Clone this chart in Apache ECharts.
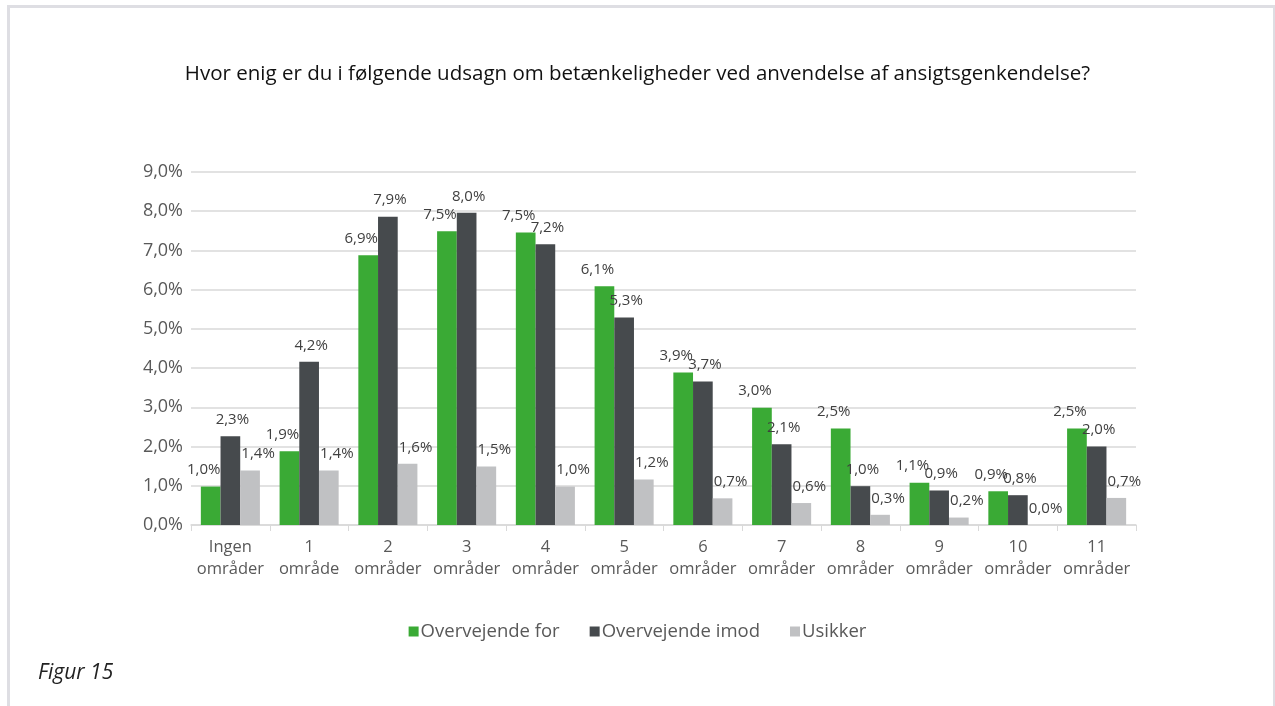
<!DOCTYPE html>
<html>
<head>
<meta charset="utf-8">
<script src="https://cdn.jsdelivr.net/npm/echarts@6/dist/echarts.min.js"></script>
<style>
  html, body { margin: 0; padding: 0; background: #fff; }
  #wrap { position: relative; width: 1275px; height: 706px; }
  #frame {
    position: absolute; left: 7px; top: 5px; right: 0; bottom: 0;
    border-left: 3px solid #dedee3; border-top: 3px solid #dedee3; border-right: 2px solid #dedee3;
  }
  #chart { position: absolute; left: 0; top: 0; width: 1275px; height: 706px; }
</style>
</head>
<body>
<div id="wrap">
  <div id="frame"></div>
  <div id="chart"></div>
</div>
<script>
const categories = ["Ingen\nområder", "1\nområde", "2\nområder", "3\nområder", "4\nområder", "5\nområder",
  "6\nområder", "7\nområder", "8\nområder", "9\nområder", "10\nområder", "11\nområder"];
const forValues = [0.98, 1.88, 6.88, 7.49, 7.46, 6.09, 3.89, 2.99, 2.46, 1.08, 0.86, 2.46];
const imodValues = [2.26, 4.16, 7.86, 7.96, 7.16, 5.29, 3.66, 2.06, 0.99, 0.88, 0.76, 2.0];
const usikkerValues = [1.39, 1.39, 1.56, 1.49, 0.98, 1.16, 0.68, 0.56, 0.26, 0.19, 0.0, 0.69];
const yTicks = [0, 1, 2, 3, 4, 5, 6, 7, 8, 9];

const fontFamily = "'Open Sans', 'Noto Sans', sans-serif";
const pct = v => (Math.round(v * 10) / 10).toFixed(1).replace(".", ",") + "%";

function series(name, data, color, dx) {
  return {
    name: name,
    type: "bar",
    data: data,
    barGap: "0%",
    barCategoryGap: "25%",
    itemStyle: { color: color },
    label: {
      show: true,
      position: "top",
      distance: 9,
      offset: [dx, 0],
      formatter: p => pct(p.value),
      fontFamily: fontFamily,
      fontSize: 15,
      color: "#404040"
    }
  };
}

const chart = echarts.init(document.getElementById("chart"));
chart.setOption({
  animation: false,
  textStyle: { fontFamily: fontFamily },
  title: {
    text: "Hvor enig er du i følgende udsagn om betænkeligheder ved anvendelse af ansigtsgenkendelse?",
    left: "center",
    top: 59,
    textStyle: { fontFamily: fontFamily, fontSize: 20.5, fontWeight: "normal", color: "#111" }
  },
  legend: {
    bottom: 60,
    left: "center",
    itemWidth: 10,
    itemHeight: 10,
    itemGap: 30,
    icon: "rect",
    textStyle: { fontFamily: fontFamily, fontSize: 18.5, color: "#595959", padding: [0, 0, 0, -3] },
    data: ["Overvejende for", "Overvejende imod", "Usikker"]
  },
  graphic: [{
    type: "text",
    left: 38,
    top: 663,
    style: { text: "Figur 15", font: "italic 21px " + fontFamily, fill: "#222" }
  }],
  grid: { left: 191, right: 139, top: 172, bottom: 181 },
  xAxis: {
    type: "category",
    data: categories,
    axisLine: { lineStyle: { color: "#d9d9d9", width: 1.5 } },
    axisTick: { show: true, length: 6, lineStyle: { color: "#d9d9d9" } },
    axisLabel: { fontSize: 16.5, color: "#595959", lineHeight: 22, margin: 11, interval: 0 }
  },
  yAxis: {
    type: "value",
    min: yTicks[0],
    max: yTicks[yTicks.length - 1],
    interval: 1,
    axisLine: { show: false },
    axisTick: { show: false },
    splitLine: { lineStyle: { color: "#d9d9d9", width: 1.5 } },
    axisLabel: { fontSize: 18, color: "#595959", margin: 8, formatter: v => pct(v) }
  },
  series: [
    series("Overvejende for", forValues, "#3aaa35", -7),
    series("Overvejende imod", imodValues, "#464a4d", 2),
    series("Usikker", usikkerValues, "#c0c1c3", 8)
  ]
});
</script>
</body>
</html>
